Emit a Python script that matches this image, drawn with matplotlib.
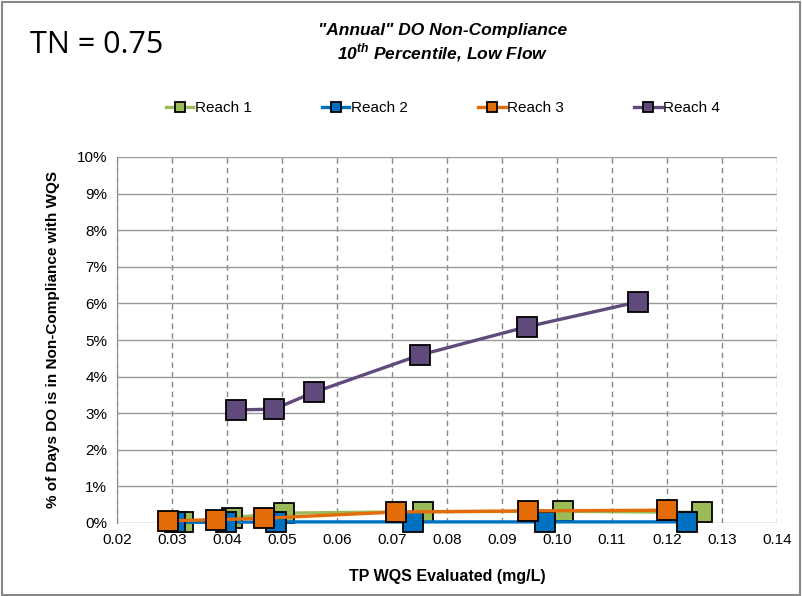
import matplotlib
matplotlib.use("Agg")
import matplotlib.pyplot as plt
from matplotlib.patches import Rectangle
from matplotlib.ticker import FuncFormatter, MultipleLocator

plt.rcParams['font.family'] = ['Liberation Sans', 'DejaVu Sans']

# data (x = TP in mg/L, y = % of days)
reach1_x = [0.032, 0.041, 0.0503, 0.0757, 0.101, 0.1263]
reach1_y = [0.02, 0.15, 0.27, 0.31, 0.32, 0.29]
reach2_x = [0.0306, 0.0398, 0.0489, 0.0739, 0.0979, 0.1237]
reach2_y = [0.02, 0.02, 0.03, 0.03, 0.03, 0.03]
reach3_x = [0.0292, 0.038, 0.0467, 0.0708, 0.0948, 0.120]
reach3_y = [0.06, 0.09, 0.13, 0.30, 0.33, 0.35]
reach4_x = [0.0416, 0.0485, 0.0558, 0.0751, 0.0945, 0.1147]
reach4_y = [3.09, 3.11, 3.57, 4.59, 5.36, 6.04]

series = [
    ("Reach 1", reach1_x, reach1_y, "#9bbb59"),
    ("Reach 2", reach2_x, reach2_y, "#0070c0"),
    ("Reach 3", reach3_x, reach3_y, "#e36c09"),
    ("Reach 4", reach4_x, reach4_y, "#604a7b"),
]

fig = plt.figure(figsize=(8.02, 5.96), dpi=100)
ax = fig.add_axes([117/802, 1 - 523/596, (777-117)/802, (523-157)/596])

for name, xs, ys, col in series:
    ax.plot(xs, ys, color=col, lw=2.4, marker="s", markersize=14,
            markerfacecolor=col, markeredgecolor="black", markeredgewidth=1.3,
            label=name, clip_on=False, zorder=3)

ax.set_xlim(0.02, 0.14)
ax.set_ylim(0, 10)
ax.xaxis.set_major_locator(MultipleLocator(0.01))
ax.yaxis.set_major_locator(MultipleLocator(1))
ax.xaxis.set_major_formatter(FuncFormatter(lambda v, p: f"{v:.2f}"))
ax.yaxis.set_major_formatter(FuncFormatter(lambda v, p: f"{v:.0f}%"))
ax.tick_params(labelsize=11, length=0, pad=7)

ax.grid(axis="y", color="#999999", lw=1, ls="-")
ax.grid(axis="x", color="#888888", lw=1, ls=(0, (4, 3)))
ax.set_axisbelow(True)
for s in ["top", "right", "bottom"]:
    ax.spines[s].set_visible(False)
ax.spines["left"].set_color("#888888")

ax.set_xlabel("TP WQS Evaluated (mg/L)", fontsize=11.5, fontweight="bold", labelpad=16)
ax.set_ylabel("% of Days DO is in Non-Compliance with WQS", fontsize=11, fontweight="bold", labelpad=12)

fig.text(443/802, 1 - 30/596, '"Annual" DO Non-Compliance', ha="center", va="center",
         fontsize=12.5, fontweight="bold", style="italic")
fig.text(443/802, 1 - 53/596, r'10$^{\mathregular{th}}$ Percentile, Low Flow', ha="center", va="center",
         fontsize=12.5, fontweight="bold", style="italic")
fig.text(30/802, 1 - 45/596, "TN = 0.75", ha="left", va="center", fontsize=22,
         family=["Open Sans", "DejaVu Sans"])

leg = fig.legend(loc="center", bbox_to_anchor=(443/802, 1 - 108/596), ncol=4, frameon=False,
                 fontsize=11, markerscale=0.5, handlelength=1.8, handletextpad=0.1,
                 columnspacing=4.6)

fig.patches.append(Rectangle((0.002, 0.002), 0.996, 0.995, transform=fig.transFigure,
                             fill=False, edgecolor="#888888", lw=1.5))

fig.savefig("out.png", dpi=100)
